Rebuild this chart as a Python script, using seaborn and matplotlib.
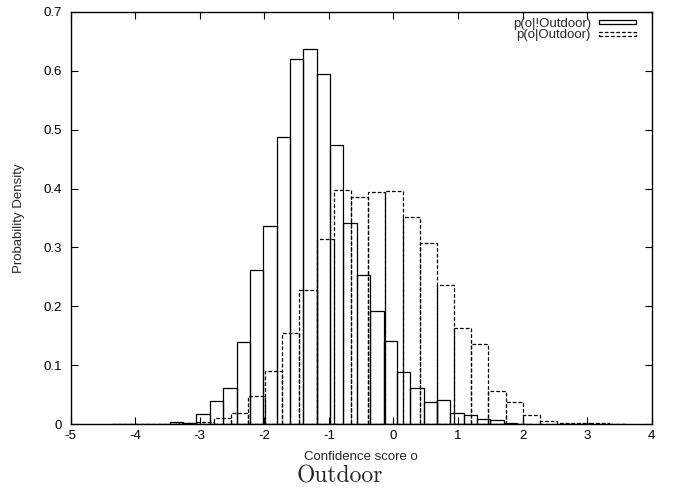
import numpy as np
import pandas as pd
import matplotlib
matplotlib.use("Agg")
import matplotlib.pyplot as plt
from matplotlib.patches import Rectangle
import seaborn as sns

# ---- data ----
# p(o|!Outdoor): solid histogram, bins start at -3.466, width 0.207
solid_bin_start = -3.466
solid_bin_width = 0.207
solid_values = [0.004, 0.003, 0.017, 0.039, 0.062, 0.140, 0.262, 0.337,
                0.487, 0.619, 0.636, 0.595, 0.474, 0.341, 0.253, 0.193,
                0.141, 0.089, 0.062, 0.038, 0.041, 0.020, 0.016, 0.009,
                0.007, 0.003, 0.001]

# p(o|Outdoor): dashed histogram, bins start at -4.382, width 0.266
dashed_bin_start = -4.382
dashed_bin_width = 0.266
dashed_values = [0.001, 0.001, 0.0005, 0.001, 0.002, 0.004, 0.010, 0.020,
                 0.048, 0.090, 0.155, 0.228, 0.315, 0.398, 0.386, 0.394,
                 0.395, 0.351, 0.308, 0.237, 0.164, 0.136, 0.056, 0.037,
                 0.015, 0.005, 0.003, 0.002, 0.002, 0.001]

series_labels = ["p(o|!Outdoor)", "p(o|Outdoor)"]
x_ticks = [-5, -4, -3, -2, -1, 0, 1, 2, 3, 4]
y_ticks = [0, 0.1, 0.2, 0.3, 0.4, 0.5, 0.6, 0.7]
y_tick_labels = ["0", "0.1", "0.2", "0.3", "0.4", "0.5", "0.6", "0.7"]
x_label = "Confidence score o"
y_label = "Probability Density"
title = "Outdoor"


def hist_frame(start, width, values):
    edges = start + width * np.arange(len(values) + 1)
    centers = (edges[:-1] + edges[1:]) / 2
    return pd.DataFrame({"x": centers, "w": values}), [float(e) for e in edges]


df_s, edges_s = hist_frame(solid_bin_start, solid_bin_width, solid_values)
df_d, edges_d = hist_frame(dashed_bin_start, dashed_bin_width, dashed_values)

sns.set_style("ticks")
plt.rcParams["font.family"] = ["Liberation Sans", "DejaVu Sans"]

W, H = 675, 488
fig = plt.figure(figsize=(W / 100, H / 100), dpi=100)
L, R, T, B = 70.7, 651.7, 11.7, 424.3
ax = fig.add_axes([L / W, (H - B) / H, (R - L) / W, (B - T) / H])

sns.histplot(data=df_s, x="x", weights="w", bins=edges_s, stat="count",
             fill=False, element="bars", color="black", linewidth=0.9,
             ax=ax)
sns.histplot(data=df_d, x="x", weights="w", bins=edges_d, stat="count",
             fill=False, element="bars", color="black", linewidth=0.9,
             linestyle=(0, (3, 1.6)), ax=ax)

ax.set_xlim(-5, 4)
ax.set_ylim(0, 0.7)
ax.set_xticks(x_ticks)
ax.set_xticklabels([str(t) for t in x_ticks])
ax.set_yticks(y_ticks)
ax.set_yticklabels(y_tick_labels)
ax.tick_params(direction="in", top=True, right=True, length=5, width=0.8,
               labelsize=9.5, colors="black")
ax.tick_params(axis="x", pad=4)
ax.tick_params(axis="y", pad=6)
for sp in ax.spines.values():
    sp.set_visible(True)
    sp.set_linewidth(1.0)
    sp.set_color("black")

ax.set_xlabel(x_label, fontsize=9.5)
ax.set_ylabel(y_label, fontsize=9.5)
ax.xaxis.set_label_coords(0.5, (B - 451) / (B - T))
ax.yaxis.set_label_coords((25 - L) / (R - L), 0.5)

fig.text(340 / W, (H - 476) / H, title, family="cmr10", fontsize=17,
         ha="center", va="center")

# legend (gnuplot-style key: right-aligned text, then sample box)
def px(x, y):
    return x / W, (H - y) / H

for i, (lab, ls) in enumerate(zip(series_labels, ["-", (0, (3, 1.6))])):
    yc = 23.5 + 11.5 * i
    fx, fy = px(591.0, yc)
    fig.text(fx, fy, lab, fontsize=9.5, ha="right", va="center")
    bc = yc - 1.5 + 0.7 * i
    x0, y0 = px(599.3, bc + 2.1)
    w = 36.7 / W
    h = 4.2 / H
    fig.patches.append(Rectangle((x0, y0), w, h, transform=fig.transFigure,
                                 fill=False, edgecolor="black",
                                 linewidth=0.9, linestyle=ls))

fig.savefig("out.png", dpi=100)
